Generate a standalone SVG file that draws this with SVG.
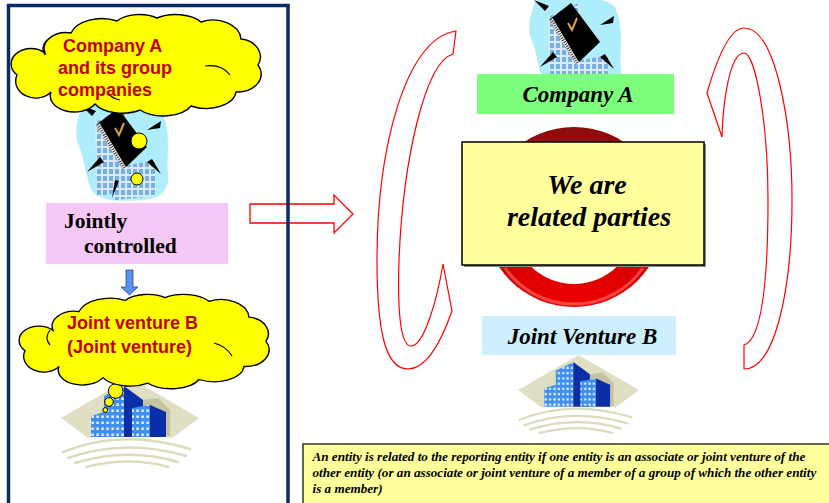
<svg xmlns="http://www.w3.org/2000/svg" xmlns:xlink="http://www.w3.org/1999/xlink" width="829" height="503" viewBox="0 0 829 503">
  <style>
    .cloud { fill: #ffff00; stroke: #000; stroke-width: 1.4; }
    .cloud-line { fill: none; stroke: #000; stroke-width: 1.2; }
    .cloud-text { font-family: "Liberation Sans", Arial, sans-serif; font-weight: bold; font-size: 18px; fill: #c00000; }
    .serif-b { font-family: "Liberation Serif", "Times New Roman", serif; font-weight: bold; fill: #000; }
    .serif-bi { font-family: "Liberation Serif", "Times New Roman", serif; font-weight: bold; font-style: italic; fill: #000; }
    .red-outline { fill: #fff; stroke: #ff0000; stroke-width: 1.3; }
    .curl { fill: none; stroke: #ff0000; stroke-width: 1.2; }
    .wedge { fill: #000; }
    .dark-face { fill: #0b2fa6; }
    .swoosh { fill: none; stroke: #dcdbbd; stroke-width: 2.6; stroke-linecap: round; }
  </style>
  <defs>
    <!-- office windows -->
    <pattern id="win" width="6" height="7" patternUnits="userSpaceOnUse">
      <rect width="6" height="7" fill="#d9ebfb"/>
      <rect x="1" y="1" width="4" height="5" fill="#76afe8"/>
    </pattern>
    <!-- city windows -->
    <pattern id="cwin" width="5" height="6" patternUnits="userSpaceOnUse">
      <rect width="5" height="6" fill="#3e8ff0"/>
      <rect x="1.4" y="1.5" width="2.4" height="2.5" fill="#eef5ff"/>
    </pattern>
    <linearGradient id="ringGrad" x1="0" y1="127" x2="0" y2="307" gradientUnits="userSpaceOnUse">
      <stop offset="0" stop-color="#8e0d0d"/>
      <stop offset="0.45" stop-color="#b30000"/>
      <stop offset="1" stop-color="#f00000"/>
    </linearGradient>

    <!-- office building with notebook clip art -->
    <g id="office">
      <path d="M84 104 C76 118 74 136 79 146 C84 158 86 176 91 189 C96 201 122 202 142 200 C158 199 170 192 168 174 C166 158 172 134 162 112 C152 100 102 99 84 104 Z" fill="#aeeefc"/>
      <polygon points="95,122 126,108 128,190 97,197" fill="url(#win)"/>
      <polygon points="113,168 155,160 156,196 115,200" fill="url(#win)"/>
      <polygon class="wedge" points="81,105 96,111 92,116"/>
      <polygon class="wedge" points="147,130 161,121 160,128"/>
      <polygon class="wedge" points="87,172 100,157 104,162"/>
      <polygon class="wedge" points="112,198 115,180 119,181"/>
      <polygon class="wedge" points="147,162 152,159 161,174"/>
      <polygon points="96,125 118,108 147,147 123,170" fill="#000"/>
      <polygon points="96,125 123,170 126.5,168 99.5,123" fill="#f2f2f2"/>
      <line x1="97.8" y1="124" x2="124.8" y2="169" stroke="#333" stroke-width="3" stroke-dasharray="1 1.4"/>
      <path d="M115 128 L119 135 L124 123" fill="none" stroke="#d8a63a" stroke-width="2"/>
    </g>

    <!-- city clip art -->
    <g id="city">
      <path d="M61 418 L130 378 L199 418 L172 438 Q130 430 88 438 Z" fill="#e0dfc3"/>
      <polygon points="143,400 158,398 170,410 170,436 143,436" fill="#c5c4a2"/>
      <polygon points="91,416 104,412 104,437 91,437" fill="url(#cwin)"/>
      <polygon points="104,396 124,386 124,437 104,437" fill="url(#cwin)"/>
      <polygon class="dark-face" points="124,386 143,400 143,437 124,437"/>
      <polygon points="132,408 150,405 150,437 132,437" fill="url(#cwin)"/>
      <polygon class="dark-face" points="150,405 166,412 166,437 150,437"/>
      <path class="swoosh" d="M63 452 Q122 428 190 449"/>
      <path class="swoosh" d="M68 458 Q125 438 186 456"/>
      <path class="swoosh" d="M75 463 Q128 447 178 462"/>
      <path class="swoosh" d="M86 467 Q130 456 168 467"/>
    </g>

    <!-- thought-cloud outline, local size 243 x 97 -->
    <path id="cloudShape" d="M30 40 A22 16 0 0 1 56 20 A32 20 0 0 1 102 8 A28 16 0 0 1 142 5 A30 16 0 0 1 186 9 A28 20 0 0 1 226 26 A22 18 0 0 1 243 52 A24 18 0 0 1 221 79 A30 18 0 0 1 176 93 A30 16 0 0 1 125 97 A30 16 0 0 1 80 91 A24 16 0 0 1 36 79 A20 17 0 0 1 2 62 A18 14 0 0 1 30 40 Z"/>
  </defs>

  <!-- left panel: Company A group and joint venture -->
  <g id="company-a-group-icon">
    <use xlink:href="#office"/>
    <circle cx="139" cy="141" r="8" fill="#ffff00" stroke="#000" stroke-width="1"/>
    <circle cx="137" cy="179" r="6" fill="#ffff00" stroke="#000" stroke-width="1"/>
  </g>

  <g id="company-a-cloud">
    <use xlink:href="#cloudShape" class="cloud" transform="translate(15,13)"/>
    <path class="cloud-line" d="M45 55 Q40 48 47 40"/>
    <path class="cloud-line" d="M205 66 Q222 64 230 75"/>
    <path class="cloud-line" d="M120 100 Q110 98 108 92"/>
    <text class="cloud-text" x="63" y="51.5">Company A</text>
    <text class="cloud-text" x="58" y="74">and its group</text>
    <text class="cloud-text" x="58" y="95.5">companies</text>
  </g>

  <g id="jointly-controlled">
    <rect x="46" y="203" width="182" height="61" fill="#f5c8f5"/>
    <text class="serif-b" font-size="21.5" x="64" y="228">Jointly</text>
    <text class="serif-b" font-size="21.5" x="84" y="253">controlled</text>
  </g>

  <g id="joint-venture-b-city">
    <use xlink:href="#city"/>
    <circle cx="115.7" cy="391" r="7.3" fill="#ffff00" stroke="#000" stroke-width="1"/>
    <circle cx="109" cy="402" r="4.3" fill="#ffff00" stroke="#000" stroke-width="1"/>
    <circle cx="105.3" cy="410" r="2.4" fill="#ffff00" stroke="#000" stroke-width="1"/>
  </g>

  <g id="joint-venture-b-cloud">
    <use xlink:href="#cloudShape" class="cloud" transform="translate(23,293) scale(1,0.93)"/>
    <path class="cloud-line" d="M50 345 Q44 338 50 330"/>
    <path class="cloud-line" d="M214 343 Q226 346 232 356"/>
    <text class="cloud-text" x="67" y="329">Joint venture B</text>
    <text class="cloud-text" x="67" y="353">(Joint venture)</text>
  </g>

  <!-- right side: the related parties -->
  <g id="company-a-icon">
    <use xlink:href="#office" transform="translate(453,-105)"/>
  </g>

  <g id="company-a">
    <rect x="477" y="74" width="197" height="40" fill="#7dff7d"/>
    <text class="serif-bi" font-size="23" x="578" y="102" text-anchor="middle">Company A</text>
  </g>

  <g id="ring">
    <path d="M664 217 A90 90 0 1 0 484 217 A90 90 0 1 0 664 217 Z M636 222 A62 62 0 1 0 512 222 A62 62 0 1 0 636 222 Z" fill="url(#ringGrad)" fill-rule="evenodd"/>
    <path d="M505 268 A84 84 0 0 0 643 268" fill="none" stroke="#ff9a9a" stroke-opacity="0.45" stroke-width="3"/>
  </g>

  <g id="related-parties">
    <rect x="464" y="144" width="242" height="123" fill="#8a8a8a"/>
    <rect x="462" y="142" width="242" height="123" fill="#ffff9c" stroke="#000" stroke-width="1.5"/>
    <text class="serif-bi" font-size="28" x="587" y="194" text-anchor="middle">We are</text>
    <text class="serif-bi" font-size="28" x="589" y="226" text-anchor="middle">related parties</text>
  </g>

  <g id="joint-venture-b-icon">
    <use xlink:href="#city" transform="translate(464.5,23.4) scale(0.877)"/>
  </g>

  <g id="joint-venture-b">
    <rect x="482" y="316" width="194" height="39" fill="#cdeefd"/>
    <text class="serif-bi" font-size="23" x="582.5" y="344" text-anchor="middle">Joint Venture B</text>
  </g>

  <g id="definition-note">
    <rect x="303" y="444" width="532" height="62" fill="#ffff9c" stroke="#333" stroke-width="1.5"/>
    <text class="serif-bi" font-size="13.15" x="312.5" y="460.5">An entity is related to the reporting entity if one entity is an associate or joint venture of the</text>
    <text class="serif-bi" font-size="13.15" x="312.5" y="476.5">other entity (or an associate or joint venture of a member of a group of which the other entity</text>
    <text class="serif-bi" font-size="13.15" x="312.5" y="492.5">is a member)</text>
  </g>

  <!-- connectors -->
  <g id="connectors">
    <polygon points="126,270 133,270 133,287 138,287 129.5,295 121,287 126,287" fill="#5b8ff0" stroke="#2b4a8c" stroke-width="0.8"/>
    <polygon class="red-outline" points="250,204 334,204 334,195 353,214 334,233 334,223 250,223"/>
    <path class="curl" d="M456 31 L453 54 C425 62 403 160 399 260 C397 320 402 346 411 346 C424 346 437 300 443 264 L452 311 C440 345 425 369 408 369 C385 369 377 330 377 260 C377 150 405 38 456 31 Z"/>
    <path class="curl" d="M722 137 L707 93 C718 55 730 28 744 28 C775 28 792 120 792 200 C792 290 775 369 744 369 L744 345 C760 340 768 290 768 200 C768 120 755 53 744 53 C730 53 723 100 722 137 Z"/>
  </g>

  <!-- frame around the left panel -->
  <g id="left-panel-frame">
    <rect x="8.5" y="5.5" width="279.5" height="520" fill="none" stroke="#0b2a66" stroke-width="3.5"/>
  </g>
</svg>
